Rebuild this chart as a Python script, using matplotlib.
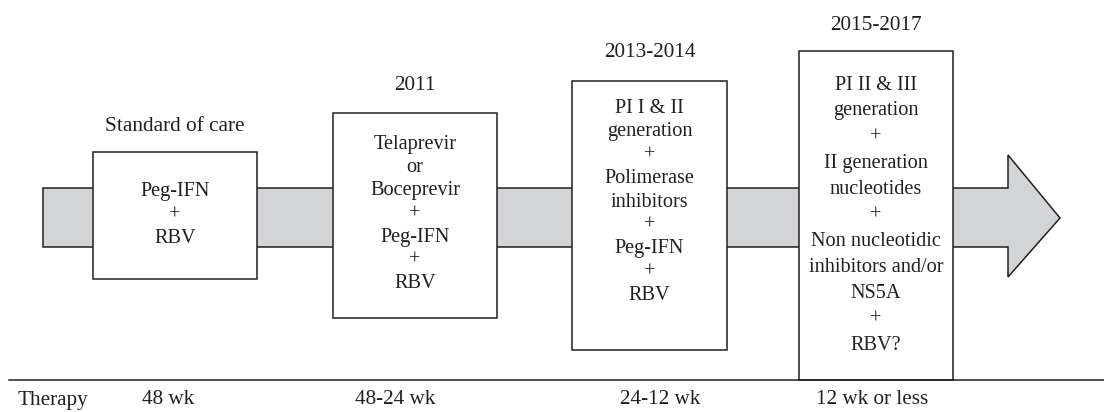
import matplotlib.pyplot as plt
from matplotlib.patches import Rectangle, Polygon

# content
periods = ['Standard of care', '2011', '2013-2014', '2015-2017']
regimens = [
    'Peg-IFN\n+\nRBV',
    'Telaprevir\nor\nBoceprevir\n+\nPeg-IFN\n+\nRBV',
    'PI I & II\ngeneration\n+\nPolimerase\ninhibitors\n+\nPeg-IFN\n+\nRBV',
    'PI II & III\ngeneration\n+\nII generation\nnucleotides\n+\nNon nucleotidic\ninhibitors and/or\nNS5A\n+\nRBV?',
]
row_label = 'Therapy'
durations = ['48 wk', '48-24 wk', '24-12 wk', '12 wk or less']

# layout (pixel coordinates of the 1104x412 canvas)
box_x0 = [93, 333, 572, 799]
box_x1 = [257, 497, 727, 953]
box_y0 = [152, 113, 81, 51]
box_y1 = [279, 318, 350, 380]
text_y = [215, 214, 202, 215]
spacing = [1.3, 1.3, 1.32, 1.5]
period_y = [126, 85, 52, 25]
dur_x = [142, 355, 620, 816]

ink = '#231f20'
gray = '#d3d4d6'
font = 'Liberation Serif'

fig = plt.figure(figsize=(11.04, 4.12), dpi=100)
ax = fig.add_axes([0, 0, 1, 1])
ax.set_xlim(0, 1104)
ax.set_ylim(412, 0)
ax.axis('off')

# big arrow behind the boxes
arrow = Polygon([(43, 188), (1008, 188), (1008, 155), (1060, 218),
                 (1008, 277), (1008, 247), (43, 247)],
                closed=True, facecolor=gray, edgecolor=ink, lw=1.1, zorder=1)
ax.add_patch(arrow)

for i in range(len(periods)):
    ax.add_patch(Rectangle((box_x0[i], box_y0[i]), box_x1[i] - box_x0[i],
                           box_y1[i] - box_y0[i], facecolor='white',
                           edgecolor=ink, lw=1.1, zorder=2))
    cx = (box_x0[i] + box_x1[i]) / 2
    ax.text(cx, text_y[i], regimens[i], ha='center', va='center',
            fontsize=14.6, family=font, color=ink, linespacing=spacing[i],
            zorder=3)
    ax.text(cx, period_y[i], periods[i], ha='center', va='center',
            fontsize=15.3, family=font, color=ink)
    ax.text(dur_x[i], 400, durations[i], ha='left', va='center',
            fontsize=15.2, family=font, color=ink)

ax.plot([9, 1104], [380, 380], color=ink, lw=1.1, zorder=4)
ax.text(18, 400, row_label, ha='left', va='center', fontsize=15.2,
        family=font, color=ink)

fig.savefig('out.png', dpi=100)
